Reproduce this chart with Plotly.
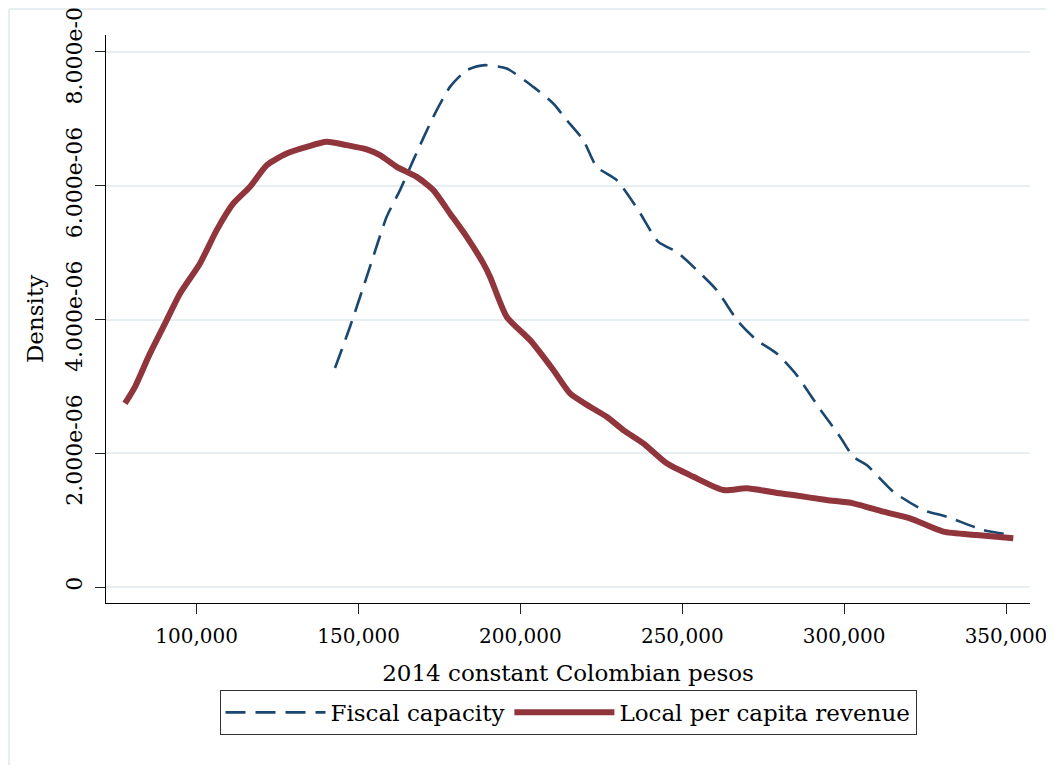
import plotly.graph_objects as go

# Local per capita revenue (kernel density)
rev_x = [77850, 80940, 85575, 90733, 94841, 101019, 106178, 111306, 116465, 121624,
         127802, 133980, 140159, 146337, 152515, 156623, 161782, 167960, 173088, 178247,
         183406, 188534, 190604, 195763, 202961, 210159, 215318, 221496, 226655, 231783,
         237961, 245190, 253407, 262675, 269903, 280190, 284298, 294614, 302832, 312099,
         320338, 330633, 340950, 352256]
rev_y = [2.746, 2.994, 3.493, 3.991, 4.390, 4.839, 5.336, 5.735, 5.984, 6.308,
         6.483, 6.581, 6.656, 6.607, 6.543, 6.457, 6.283, 6.133, 5.934, 5.586,
         5.236, 4.839, 4.640, 4.040, 3.692, 3.244, 2.895, 2.695, 2.546, 2.347,
         2.148, 1.849, 1.649, 1.450, 1.475, 1.401, 1.375, 1.300, 1.251, 1.126,
         1.027, 0.827, 0.777, 0.728]

# Fiscal capacity (kernel density)
fis_x = [142723, 147357, 152515, 158694, 162802, 166911, 173088, 178247, 183406, 189059,
         195763, 203980, 210159, 214298, 219425, 223565, 229743, 236415, 242594, 248278,
         252911, 260634, 267307, 272990, 279169, 285347, 292020, 298723, 302832, 306971,
         315188, 324456, 331685, 343000, 351773]
fis_y = [3.274, 3.891, 4.638, 5.535, 5.934, 6.383, 7.030, 7.478, 7.728, 7.803,
         7.753, 7.478, 7.230, 6.981, 6.682, 6.283, 6.084, 5.635, 5.161, 5.012,
         4.813, 4.439, 3.966, 3.692, 3.493, 3.169, 2.695, 2.247, 1.948, 1.824,
         1.425, 1.151, 1.051, 0.852, 0.777]

x_ticks = [100000, 150000, 200000, 250000, 300000, 350000]
x_tick_labels = ["100,000", "150,000", "200,000", "250,000", "300,000", "350,000"]
y_ticks = [0, 2e-6, 4e-6, 6e-6, 8e-6]
y_tick_labels = ["0", "2.000e-06", "4.000e-06", "6.000e-06", "8.000e-06"]

scale = 1e-6
FONT = "DejaVu Serif"

fig = go.Figure()
fig.add_trace(go.Scatter(
    x=fis_x, y=[v * scale for v in fis_y], mode="lines", name="Fiscal capacity",
    line=dict(color="#1a476f", width=2.6, dash="20px,10px", shape="spline", smoothing=0.6),
))
fig.add_trace(go.Scatter(
    x=rev_x, y=[v * scale for v in rev_y], mode="lines", name="Local per capita revenue",
    line=dict(color="#90353b", width=6, shape="spline", smoothing=0.6),
))

# the page body adds an 8px offset, so the figure is sized/margined to compensate
fig.update_layout(
    width=1038, height=757,
    margin=dict(l=98, r=16, t=27, b=162, autoexpand=False),
    paper_bgcolor="#ffffff", plot_bgcolor="#ffffff",
    font=dict(family=FONT, size=21, color="#000000"),
    showlegend=True,
    legend=dict(
        orientation="h", x=0.5, xanchor="center", y=-0.153, yanchor="top",
        bordercolor="#333333", borderwidth=1, bgcolor="#ffffff",
        font=dict(family=FONT, size=23, color="#000000"),
        itemwidth=100, tracegroupgap=0,
    ),
    xaxis=dict(
        range=[71982, 357414], tickmode="array", tickvals=x_ticks, ticktext=x_tick_labels,
        ticks="outside", ticklen=10, tickwidth=1.3, tickcolor="#222222",
        showline=True, linecolor="#000000", linewidth=1.3, showgrid=False, zeroline=False,
        automargin=False, ticklabelstandoff=5, ticklabeloverflow="allow",
        tickfont=dict(family=FONT, size=20, color="#000000"),
        title=dict(text="2014 constant Colombian pesos", font=dict(family=FONT, size=23), standoff=17),
    ),
    yaxis=dict(
        range=[-0.239e-6, 8.254e-6], tickmode="array", tickvals=y_ticks, ticktext=y_tick_labels,
        tickangle=-90, ticks="outside", ticklen=10, tickwidth=1.3, tickcolor="#222222",
        showline=True, linecolor="#000000", linewidth=1.3,
        showgrid=True, gridcolor="#e6eef1", gridwidth=1.5, zeroline=False,
        automargin=False, ticklabelstandoff=4, ticklabeloverflow="allow",
        tickfont=dict(family=FONT, size=22, color="#000000"),
        title=dict(text="Density", font=dict(family=FONT, size=23), standoff=11),
    ),
)

# outer graph-region frame (top and left edges visible in the reference)
fig.add_shape(type="line", xref="paper", yref="paper", x0=-0.105, x1=1.1, y0=1.0458, y1=1.0458,
              line=dict(color="#e6eef1", width=2), layer="below")
fig.add_shape(type="line", xref="paper", yref="paper", x0=-0.105, x1=-0.105, y0=1.0458, y1=-0.33,
              line=dict(color="#e6eef1", width=2), layer="below")

fig.write_html("out.html")
